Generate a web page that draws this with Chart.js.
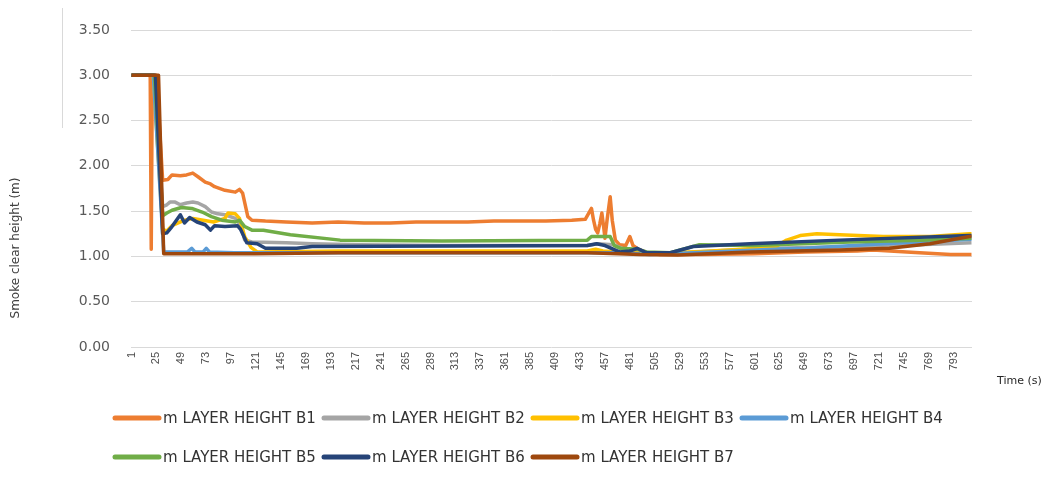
<!DOCTYPE html>
<html>
<head>
<meta charset="utf-8">
<script src="https://cdn.jsdelivr.net/npm/chart.js@4.4.0/dist/chart.umd.min.js"></script>
<style>
  html, body { margin: 0; padding: 0; background: #ffffff; }
  canvas { display: block; }
</style>
</head>
<body>
<canvas id="chart" width="1056" height="484"></canvas>
<script>
// Time axis labels (s) and height axis ticks (m)
const timeTicks = [1, 25, 49, 73, 97, 121, 145, 169, 193, 217, 241, 265, 289, 313, 337, 361, 385, 409, 433, 457, 481, 505, 529, 553, 577, 601, 625, 649, 673, 697, 721, 745, 769, 793];
const heightTicks = [0, 0.5, 1.0, 1.5, 2.0, 2.5, 3.0, 3.5];

const seriesNames = ['m LAYER HEIGHT B1', 'm LAYER HEIGHT B2', 'm LAYER HEIGHT B3', 'm LAYER HEIGHT B4',
                     'm LAYER HEIGHT B5', 'm LAYER HEIGHT B6', 'm LAYER HEIGHT B7'];
const seriesColors = ['#ED7D31', '#A5A5A5', '#FFC000', '#5B9BD5', '#70AD47', '#264478', '#9E480E'];

// Smoke layer height per location: [time (s), height (m)]
const layerB1 = [[1,3.00],[19,3.00],[20,1.08],[21,3.00],[25,3.00],[31,1.84],[36,1.85],[40,1.90],[48,1.89],[54,1.90],[60,1.92],[65,1.88],[72,1.82],[77,1.80],[81,1.77],[91,1.73],[101,1.71],[105,1.74],[108,1.70],[113,1.44],[117,1.40],[130,1.39],[150,1.38],[175,1.37],[200,1.38],[225,1.37],[250,1.37],[275,1.38],[300,1.38],[325,1.38],[350,1.39],[375,1.39],[400,1.39],[425,1.40],[438,1.41],[441,1.47],[444,1.53],[446,1.40],[448,1.30],[450,1.26],[452,1.36],[454,1.48],[456,1.30],[457,1.20],[459,1.40],[462,1.66],[464,1.40],[467,1.18],[471,1.13],[477,1.12],[479,1.17],[481,1.22],[484,1.12],[489,1.08],[498,1.04],[510,1.02],[550,1.02],[600,1.03],[650,1.05],[700,1.06],[715,1.07],[760,1.04],[790,1.02],[810,1.02]];
const layerB2 = [[1,3.00],[22,3.00],[31,1.55],[35,1.57],[38,1.60],[43,1.60],[48,1.57],[54,1.59],[60,1.60],[65,1.59],[72,1.55],[78,1.49],[84,1.47],[91,1.46],[101,1.42],[107,1.33],[110,1.18],[117,1.16],[150,1.15],[175,1.14],[220,1.13],[300,1.12],[440,1.12],[450,1.14],[465,1.13],[475,1.08],[500,1.04],[520,1.03],[560,1.06],[620,1.09],[700,1.11],[760,1.13],[810,1.15]];
const layerB3 = [[1,3.00],[22,3.00],[31,1.30],[35,1.28],[40,1.34],[52,1.40],[60,1.42],[70,1.40],[80,1.38],[91,1.42],[94,1.48],[101,1.47],[105,1.42],[110,1.22],[116,1.10],[122,1.05],[200,1.06],[440,1.06],[448,1.08],[455,1.06],[470,1.05],[500,1.03],[560,1.06],[620,1.10],[632,1.18],[645,1.23],[661,1.25],[683,1.24],[725,1.22],[770,1.22],[808,1.25],[810,1.25]];
const layerB4 = [[1,3.00],[22,3.00],[32,1.05],[55,1.05],[59,1.09],[62,1.05],[70,1.05],[73,1.09],[76,1.05],[100,1.04],[440,1.04],[470,1.04],[500,1.02],[560,1.05],[620,1.08],[650,1.09],[725,1.14],[810,1.19]];
const layerB5 = [[1,3.00],[23,3.00],[31,1.45],[35,1.48],[40,1.51],[49,1.54],[59,1.53],[69,1.49],[78,1.44],[88,1.40],[101,1.38],[105,1.40],[110,1.33],[117,1.29],[128,1.29],[154,1.24],[202,1.18],[300,1.17],[440,1.18],[444,1.22],[462,1.22],[466,1.12],[472,1.09],[488,1.08],[497,1.05],[520,1.04],[548,1.13],[600,1.12],[693,1.16],[760,1.18],[810,1.20]];
const layerB6 = [[1,3.00],[24,3.00],[31,1.25],[35,1.26],[40,1.33],[48,1.46],[52,1.37],[57,1.43],[64,1.38],[72,1.35],[77,1.29],[81,1.34],[91,1.33],[103,1.34],[106,1.30],[112,1.15],[122,1.14],[130,1.09],[160,1.09],[175,1.11],[440,1.12],[449,1.14],[457,1.12],[471,1.05],[481,1.06],[488,1.09],[497,1.04],[520,1.04],[542,1.11],[597,1.14],[683,1.18],[808,1.23],[810,1.23]];
const layerB7 = [[1,3.00],[27,3.00],[32,1.03],[60,1.03],[120,1.03],[200,1.04],[440,1.04],[470,1.03],[491,1.02],[527,1.015],[597,1.05],[683,1.07],[731,1.09],[770,1.14],[808,1.22],[810,1.22]];

const layerSeries = [layerB1, layerB2, layerB3, layerB4, layerB5, layerB6, layerB7];

const FONT = '"DejaVu Sans", "Liberation Sans", sans-serif';

// Axis titles, frame line and the two-row legend under the plot
const decorations = {
  id: 'decorations',
  afterDraw(chart) {
    const ctx = chart.ctx;
    ctx.save();

    // frame line
    ctx.strokeStyle = '#d9d9d9';
    ctx.lineWidth = 1;
    ctx.beginPath();
    ctx.moveTo(62.5, 8); ctx.lineTo(62.5, 128);
    ctx.stroke();

    // y axis title
    ctx.fillStyle = '#404040';
    ctx.font = '12px ' + FONT;
    ctx.textAlign = 'center';
    ctx.textBaseline = 'middle';
    ctx.save();
    ctx.translate(16, 248);
    ctx.rotate(-Math.PI / 2);
    ctx.fillText('Smoke clear height (m)', 0, 0);
    ctx.restore();

    // x axis title
    ctx.font = '11px ' + FONT;
    ctx.fillStyle = '#262626';
    ctx.textAlign = 'left';
    ctx.fillText('Time (s)', 997, 381);

    // legend
    ctx.font = '15px ' + FONT;
    ctx.fillStyle = '#333333';
    ctx.textAlign = 'left';
    ctx.textBaseline = 'middle';
    chart.data.datasets.forEach((ds, i) => {
      const row = Math.floor(i / 4);
      const col = i % 4;
      const x0 = 115 + col * 209;
      const y = 418 + row * 39;
      ctx.strokeStyle = ds.borderColor;
      ctx.lineWidth = 5;
      ctx.lineCap = 'round';
      ctx.beginPath();
      ctx.moveTo(x0, y); ctx.lineTo(x0 + 44, y);
      ctx.stroke();
      ctx.fillText(ds.label, x0 + 48, y + 1);
    });
    ctx.restore();
  }
};

new Chart(document.getElementById('chart'), {
  type: 'line',
  data: {
    datasets: layerSeries.map((pts, i) => ({
      label: seriesNames[i],
      data: pts.map(([t, h]) => ({ x: t, y: h })),
      borderColor: seriesColors[i],
      backgroundColor: seriesColors[i],
      borderWidth: 3.5,
      pointRadius: 0,
      tension: 0,
      borderJoinStyle: 'round',
      order: layerSeries.length - i
    }))
  },
  options: {
    responsive: false,
    animation: false,
    layout: { padding: { left: 0, right: 84, top: 30, bottom: 0 } },
    plugins: {
      legend: { display: false },
      tooltip: { enabled: false },
      title: { display: false }
    },
    scales: {
      x: {
        type: 'linear',
        min: 0.5,
        max: 810.5,
        afterBuildTicks: (axis) => { axis.ticks = timeTicks.map(v => ({ value: v })); },
        afterFit: (axis) => { axis.height = 137; },
        grid: { display: false, drawTicks: false },
        border: { display: false },
        ticks: {
          autoSkip: false,
          minRotation: 90,
          maxRotation: 90,
          padding: 5,
          color: '#4d4d4d',
          font: { family: '"Liberation Sans", sans-serif', size: 11 },
          callback: (v) => String(v)
        }
      },
      y: {
        min: 0,
        max: 3.5,
        afterBuildTicks: (axis) => { axis.ticks = heightTicks.map(v => ({ value: v })); },
        afterFit: (axis) => { axis.width = 131; },
        grid: { color: '#d9d9d9', lineWidth: 1, drawTicks: false },
        border: { display: false },
        ticks: {
          padding: 21,
          color: '#595959',
          font: { family: FONT, size: 14 },
          callback: (v) => Number(v).toFixed(2)
        }
      }
    }
  },
  plugins: [decorations]
});
</script>
</body>
</html>
